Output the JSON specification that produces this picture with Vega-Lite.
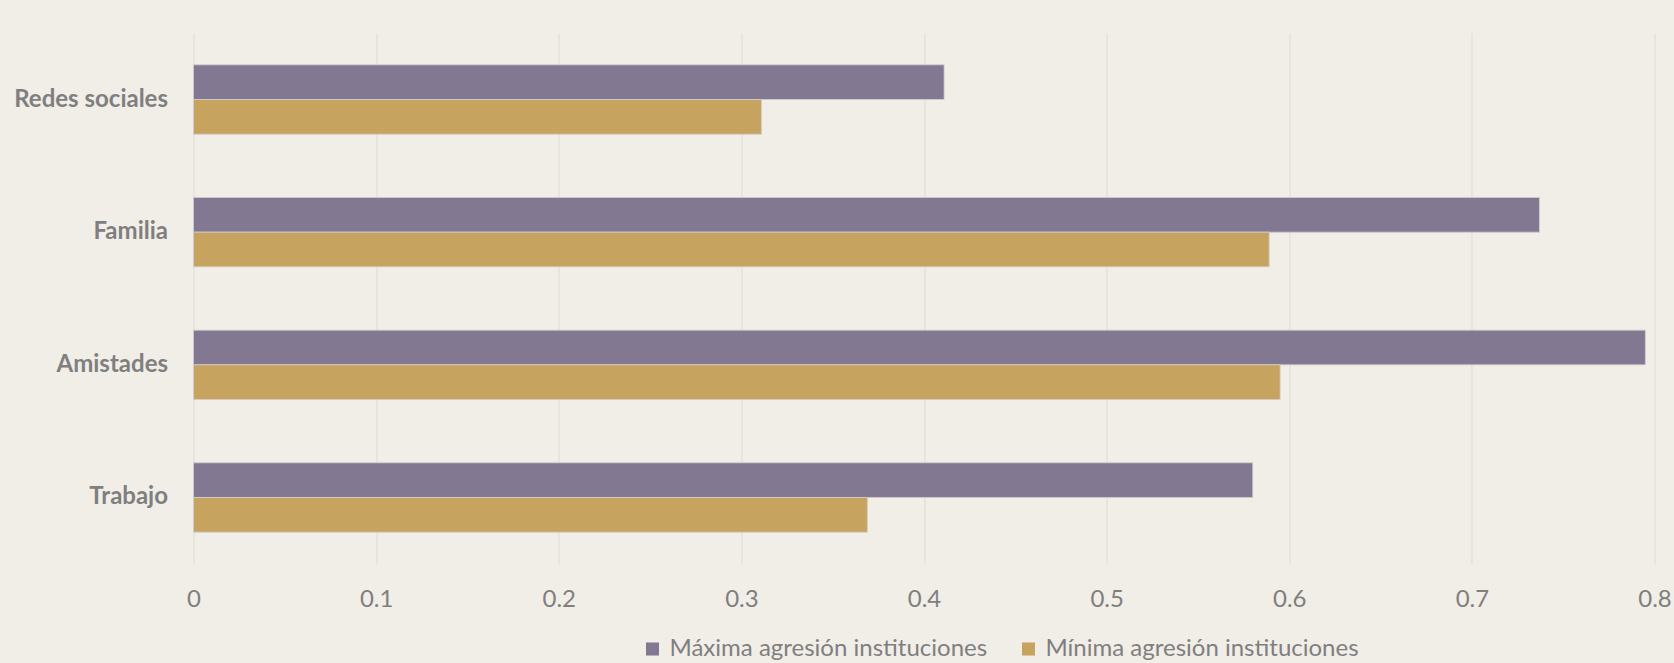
{
  "$schema": "https://vega.github.io/schema/vega-lite/v6.json",
  "autosize": {"type": "none"},
  "width": 1461,
  "height": 531,
  "padding": {"left": 193.5, "top": 33, "right": 20, "bottom": 99},
  "background": "#F1EDE7",
  "data": {
    "values": [
      {"categoria": "Redes sociales", "serie": "Máxima agresión instituciones", "valor": 0.411},
      {"categoria": "Redes sociales", "serie": "Mínima agresión instituciones", "valor": 0.311},
      {"categoria": "Familia", "serie": "Máxima agresión instituciones", "valor": 0.737},
      {"categoria": "Familia", "serie": "Mínima agresión instituciones", "valor": 0.589},
      {"categoria": "Amistades", "serie": "Máxima agresión instituciones", "valor": 0.795},
      {"categoria": "Amistades", "serie": "Mínima agresión instituciones", "valor": 0.595},
      {"categoria": "Trabajo", "serie": "Máxima agresión instituciones", "valor": 0.580},
      {"categoria": "Trabajo", "serie": "Mínima agresión instituciones", "valor": 0.369}
    ]
  },
  "mark": {"type": "bar", "stroke": "#D3CDD2", "strokeWidth": 0.8},
  "encoding": {
    "y": {
      "field": "categoria",
      "type": "nominal",
      "sort": ["Redes sociales", "Familia", "Amistades", "Trabajo"],
      "scale": {"paddingInner": 0.477, "paddingOuter": 0.24},
      "axis": {
        "title": null,
        "domain": false,
        "ticks": false,
        "labelFont": "Lato",
        "labelFontWeight": "bold",
        "labelFontSize": 24,
        "labelColor": "#7F7F7F",
        "labelPadding": 26
      }
    },
    "yOffset": {
      "field": "serie",
      "type": "nominal",
      "sort": ["Máxima agresión instituciones", "Mínima agresión instituciones"],
      "scale": {"paddingInner": 0, "paddingOuter": 0}
    },
    "x": {
      "field": "valor",
      "type": "quantitative",
      "scale": {"domain": [0, 0.8], "nice": false},
      "axis": {
        "title": null,
        "values": [0, 0.1, 0.2, 0.3, 0.4, 0.5, 0.6, 0.7, 0.8],
        "format": "~g",
        "domain": false,
        "ticks": false,
        "grid": true,
        "gridColor": "#E2DED9",
        "gridWidth": 1.2,
        "labelFont": "Lato",
        "labelFontSize": 24,
        "labelColor": "#7F7F7F",
        "labelPadding": 23,
        "labelFlush": false
      }
    },
    "color": {
      "field": "serie",
      "type": "nominal",
      "sort": ["Máxima agresión instituciones", "Mínima agresión instituciones"],
      "scale": {"range": ["#827891", "#C6A35F"]},
      "legend": {
        "title": null,
        "orient": "none",
        "legendX": 447,
        "legendY": 604,
        "direction": "horizontal",
        "symbolType": "square",
        "symbolSize": 170,
        "symbolStrokeWidth": 0,
        "symbolOffset": 0,
        "labelOffset": 5,
        "columnPadding": 29,
        "labelFont": "Lato",
        "labelFontSize": 24,
        "labelColor": "#7F7F7F",
        "labelLimit": 500
      }
    }
  },
  "config": {"view": {"stroke": null}}
}
